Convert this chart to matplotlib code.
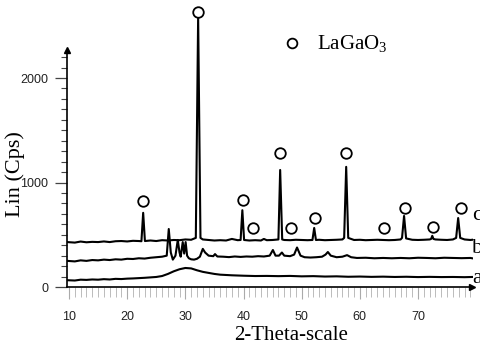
import matplotlib
matplotlib.use("Agg")
import matplotlib.pyplot as plt
from matplotlib.ticker import FixedLocator

plt.rcParams['mathtext.fontset'] = 'custom'
plt.rcParams['mathtext.rm'] = 'Liberation Serif'
plt.rcParams['mathtext.it'] = 'Liberation Serif:italic'

# ---- data (2-theta, intensity in Cps) ----
c_x = [9.7, 11, 12, 13, 14, 15, 16, 17, 18, 19, 20, 21, 22, 22.45, 22.75, 23.05, 24, 25, 26, 27, 28, 29, 30, 31,
       31.8, 32.2, 32.6, 33, 34, 35, 36, 37, 38, 39, 39.5, 39.8, 40.1, 41, 42, 43, 43.5, 44, 45, 46, 46.3, 46.65,
       47, 48, 49, 50, 51, 51.85, 52.15, 52.45, 53, 54, 55, 56, 57, 57.3, 57.65, 58.0, 59, 60, 61, 62, 63, 64, 65,
       66, 67, 67.25, 67.6, 67.95, 69, 70, 71, 72, 72.25, 72.45, 72.65, 73, 74, 75, 76, 76.55, 76.9, 77.25, 78, 79, 79.3]
c_y = [430, 425, 435, 428, 432, 430, 436, 430, 438, 440, 436, 442, 440, 438, 710, 440, 445, 440, 448, 445, 450, 448, 455, 452,
       470, 2585, 470, 455, 450, 445, 448, 445, 460, 448, 450, 735, 450, 445, 448, 445, 460, 448, 450, 455, 1120, 455,
       450, 448, 452, 450, 448, 450, 565, 450, 452, 448, 450, 452, 455, 470, 1150, 470, 450, 452, 448, 450, 452, 450, 448,
       450, 455, 470, 680, 465, 452, 450, 452, 455, 460, 490, 460, 455, 452, 450, 455, 470, 660, 470, 455, 450, 452]

b_x = [9.7, 11, 12, 13, 14, 15, 16, 17, 18, 19, 20, 21, 22, 23, 24, 25, 26, 26.8, 27.15, 27.5, 27.85, 28.3, 28.7, 29.0,
       29.2, 29.55, 29.8, 30.05, 30.3, 30.6, 31, 31.5, 32, 32.5, 33.0, 33.4, 34, 34.8, 35.1, 35.5, 36.5, 37.5, 38.5,
       39.5, 40.5, 41.5, 42.5, 43.5, 44.5, 45.05, 45.5, 46.1, 46.6, 47, 48, 48.7, 49.2, 49.8, 50.5, 51.5, 52.5, 53.5,
       54.1, 54.5, 55, 56, 57, 57.8, 58.5, 59.5, 61, 62.5, 64, 65.5, 67, 68.5, 70, 71.5, 73, 74.5, 76, 77.5, 79, 79.3]
b_y = [250, 245, 255, 250, 258, 255, 262, 258, 265, 262, 270, 268, 275, 272, 280, 285, 290, 300, 555, 330, 262, 300, 450, 330,
       290, 430, 320, 430, 300, 275, 265, 262, 270, 290, 365, 330, 300, 295, 315, 292, 290, 286, 292,
       288, 292, 290, 295, 292, 300, 354, 300, 300, 330, 300, 295, 310, 378, 300, 285, 282, 285, 290,
       310, 335, 300, 285, 290, 305, 285, 278, 280, 275, 278, 275, 278, 275, 280, 278, 275, 280, 278, 276, 278, 275]

a_x = [9.7, 11, 12, 13, 14, 15, 16, 17, 18, 19, 20, 21, 22, 23, 24, 25, 26, 27, 28, 29, 30, 31, 32, 33, 34, 35, 36, 37,
       38, 40, 42, 44, 46, 48, 50, 52, 54, 56, 58, 60, 62, 64, 66, 68, 70, 72, 74, 76, 78, 79.3]
a_y = [65, 62, 70, 68, 72, 70, 75, 72, 78, 76, 80, 82, 85, 88, 92, 96, 105, 125, 150, 170, 182, 178, 160, 145, 135, 125, 118, 115,
       112, 108, 105, 106, 104, 106, 102, 104, 100, 102, 98, 100, 97, 99, 96, 98, 95, 97, 95, 96, 94, 96]

# LaGaO3 reflection markers
mark_x = [22.72, 32.18, 39.9, 41.6, 46.3, 48.2, 52.3, 57.6, 64.15, 67.76, 72.6, 77.4]
mark_y = [823, 2630, 832, 565, 1282, 565, 660, 1282, 565, 756, 574, 756]

x_ticks = [10, 20, 30, 40, 50, 60, 70]
y_ticks = [0, 1000, 2000]
trace_labels = ['c', 'b', 'a']

# ---- figure ----
W, H = 480, 346
fig = plt.figure(figsize=(W / 100, H / 100), dpi=100)
ax = fig.add_axes([67 / W, 1 - 287 / H, (473 - 67) / W, (287 - 5) / H])
ax.set_xlim(9.656, 79.45)
ax.set_ylim(0, 2699)

for xs, ys in [(a_x, a_y), (b_x, b_y), (c_x, c_y)]:
    ax.plot(xs, ys, color='black', lw=1.5)

ax.plot(mark_x, mark_y, 'o', ms=7.6, mfc='white', mec='black', mew=1.3, clip_on=False, zorder=5)

for s in ['top', 'right']:
    ax.spines[s].set_visible(False)
ax.spines['left'].set_bounds(0, 2268)
ax.spines['bottom'].set_bounds(9.656, 79.3)
ax.spines['left'].set_linewidth(1.2)
ax.spines['bottom'].set_linewidth(1.2)
# axis arrows
ax.plot([9.656], [2268], marker='^', ms=5, color='black', clip_on=False)
ax.plot([79.3], [0], marker='>', ms=5, color='black', clip_on=False)

ax.xaxis.set_major_locator(FixedLocator(x_ticks))
ax.xaxis.set_minor_locator(FixedLocator([v for v in range(10, 80)]))
ax.yaxis.set_major_locator(FixedLocator(y_ticks))
ax.yaxis.set_minor_locator(FixedLocator([v for v in range(100, 2300, 100)]))
ax.tick_params(axis='x', which='major', direction='out', length=8.5, width=0.8, color='#aaaaaa', pad=9,
               labelsize=9, labelcolor='#222222')
ax.tick_params(axis='x', which='minor', direction='out', length=7.5, width=0.7, color='#bbbbbb')
ax.tick_params(axis='y', which='major', direction='out', length=9, width=0.9, color='#444444', pad=4.5,
               labelsize=9, labelcolor='#222222')
ax.tick_params(axis='y', which='minor', direction='out', length=4.5, width=0.8, color='#444444')
for lab in ax.get_xticklabels() + ax.get_yticklabels():
    lab.set_fontfamily('Liberation Sans')

serif = 'Liberation Serif'
fig.text(291 / W, 1 - 335 / H, '2-Theta-scale', ha='center', va='center', family=serif, size=15)
fig.text(15 / W, 1 - 174 / H, 'Lin (Cps)', ha='center', va='center', rotation=90, family=serif, size=16)

# legend
fig.lines.append(plt.Line2D([292 / W], [1 - 43 / H], marker='o', ms=7, mfc='white', mec='black', mew=1.3,
                            transform=fig.transFigure))
fig.text(317 / W, 1 - 49 / H, 'LaGaO$_3$', ha='left', va='baseline', family=serif, size=15)

for lab, yb in zip(trace_labels, [220, 253, 283]):
    fig.text(472 / W, 1 - yb / H, lab, ha='left', va='baseline', family=serif, size=16)

fig.savefig('out.png', dpi=100)
